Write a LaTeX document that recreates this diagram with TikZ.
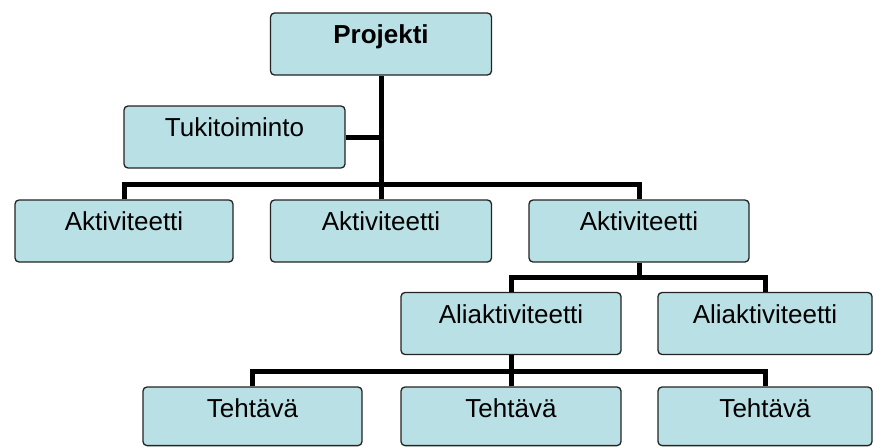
\documentclass[tikz,border=0pt]{standalone}
\usepackage{fontspec}
\setmainfont{Liberation Sans}
\usepackage{xcolor}
\usepackage{tikz}

\definecolor{boxfill}{RGB}{185,224,228}
\definecolor{boxline}{RGB}{35,35,35}

\begin{document}
\begin{tikzpicture}[x=1pt, y=-1pt,
    box/.style={draw=boxline, fill=boxfill, line width=1.3pt, rounded corners=4pt,
        minimum width=221pt, inner xsep=4pt, inner ysep=12pt,
        text height=18.6pt, text depth=19.4pt, font=\fontsize{26}{30}\selectfont},
    narrowbox/.style={box, minimum width=214pt},
    lowbox/.style={text depth=16pt},
    link/.style={draw=black, line width=5pt}]
    \useasboundingbox (0,0) rectangle (873,447);

    % Project and support
    \node[box] (proj) at (381,44) {\textbf{Projekti}};
    \node[box] (tuki) at (234.5,137) {Tukitoiminto};

    % Activities
    \node[box, minimum width=218pt] (akt1) at (124,231) {Aktiviteetti};
    \node[box] (akt2) at (381,231) {Aktiviteetti};
    \node[box, minimum width=220pt] (akt3) at (639,231) {Aktiviteetti};

    % Sub-activities
    \node[box, minimum width=220pt] (ali1) at (511,323.5) {Aliaktiviteetti};
    \node[narrowbox] (ali2) at (765,323.5) {Aliaktiviteetti};

    % Tasks
    \node[box, lowbox, minimum width=219pt] (teh1) at (252.5,416.3) {Tehtävä};
    \node[box, lowbox, minimum width=220pt] (teh2) at (511,416.3) {Tehtävä};
    \node[narrowbox, lowbox] (teh3) at (765,416.3) {Tehtävä};

    % Bus points
    \coordinate (bus1) at (381,184);
    \coordinate (bus2) at (639,277);
    \coordinate (bus3) at (511,371);

    % Links
    \draw[link] (proj.south) -- (bus1);
    \draw[link] (tuki.east) -- (tuki.east -| bus1);
    \draw[link] (akt1.north) |- (bus1) -| (akt3.north);
    \draw[link] (akt2.north) -- (akt2.north |- bus1);

    \draw[link] (akt3.south) -- (bus2);
    \draw[link] (ali1.north) |- (bus2) -| (ali2.north);

    \draw[link] (ali1.south) -- (bus3);
    \draw[link] (teh1.north) |- (bus3) -| (teh3.north);
    \draw[link] (teh2.north) -- (bus3);
\end{tikzpicture}
\end{document}
